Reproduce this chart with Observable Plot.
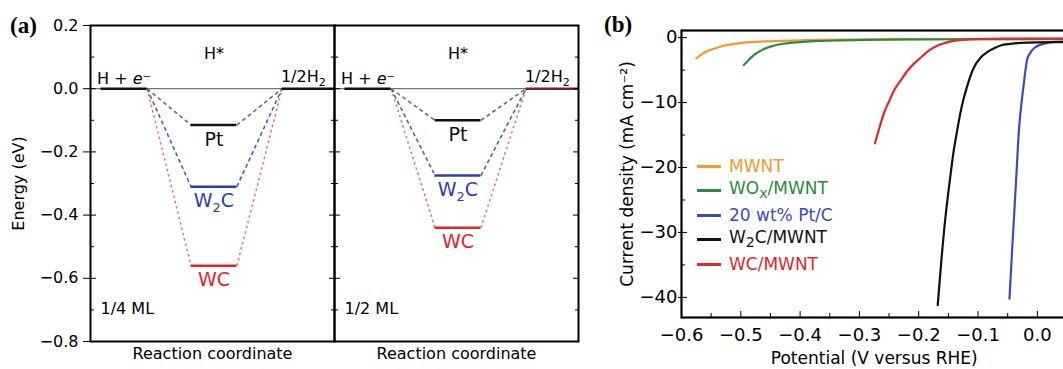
<!DOCTYPE html>
<html><head><meta charset="utf-8">
<script src="https://cdn.jsdelivr.net/npm/d3@7"></script>
<script src="https://cdn.jsdelivr.net/npm/@observablehq/plot@0.6"></script>
<style>
html,body{margin:0;padding:0;background:#fff;overflow:hidden}
#wrap{position:relative;width:1063px;height:369px;overflow:hidden;font-family:"DejaVu Sans",sans-serif;background:#fff}
.abs{position:absolute}
.tag{font-family:"Liberation Serif","DejaVu Serif",serif;font-weight:bold;font-size:23px;line-height:1}
.leg{font-size:17px;line-height:24.5px;height:24.5px;display:flex;align-items:center;white-space:nowrap}
.sw{display:inline-block;width:24px;height:3px;margin-right:8px}
</style></head><body><div id="wrap"></div>
<script>
// ---------- Panel (a): free energy diagram ----------
const coverages = ["1/4 ML", "1/2 ML"];
const catalysts = ["Pt", "W₂C", "WC"];
const energyQuarterML = [-0.115, -0.31, -0.56];
const energyHalfML = [-0.10, -0.275, -0.44];
const stageStart = [0.043, 0.412, 0.785];   // reaction coordinate of each state (start)
const stageEnd = [0.232, 0.600, 1.0];       // reaction coordinate of each state (end)
const stateLabels = ["H + e⁻", "H*", "1/2H₂"];
const energyTicks = [0.2, 0, -0.2, -0.4, -0.6, -0.8];
const energyMinorTicks = [0.1, -0.1, -0.3, -0.5, -0.7];
const catalystColors = ["#111111", "#2f3ea6", "#e1252b"];
const connectorColors = ["#6e6e6e", "#4a5cc4", "#ee6f7c"];
const connectorDash = ["4,3", "4,3", "2.5,3"];
const productColors = ["#111111", "#7b1f24"];

// ---------- Panel (b): polarization curves ----------
const seriesNames = ["MWNT", "WO<sub>x</sub>/MWNT", "20 wt% Pt/C", "W<sub>2</sub>C/MWNT", "WC/MWNT"];
const seriesColors = ["#f29a2e", "#2b8a3e", "#3b4cb8", "#111111", "#e3262b"];
const potMWNT = [-0.575, -0.565, -0.555, -0.54, -0.527, -0.51, -0.487, -0.46, -0.431, -0.40, -0.376, -0.33, -0.25, -0.15, 0.05];
const curMWNT = [-3.2, -2.5, -2.0, -1.55, -1.2, -0.95, -0.7, -0.58, -0.5, -0.4, -0.33, -0.3, -0.28, -0.25, -0.25];
const potWOx = [-0.495, -0.488, -0.482, -0.472, -0.46, -0.445, -0.426, -0.40, -0.376, -0.33, -0.263, -0.15, 0.05];
const curWOx = [-4.2, -3.55, -3.0, -2.3, -1.7, -1.25, -0.9, -0.68, -0.55, -0.42, -0.3, -0.25, -0.2];
const potPtC = [-0.047, -0.043, -0.039, -0.035, -0.031, -0.027, -0.023, -0.020, -0.017, -0.0115, -0.005, 0.0, 0.008, 0.017, 0.03, 0.05];
const curPtC = [-40.2, -33.5, -27.1, -20.6, -14.2, -10.3, -7.2, -5.0, -3.3, -2.3, -1.6, -1.3, -1.0, -0.8, -0.65, -0.6];
const potW2C = [-0.168, -0.162, -0.155, -0.148, -0.141, -0.135, -0.13, -0.124, -0.118, -0.108, -0.096, -0.084, -0.072, -0.062, -0.045, -0.028, 0.0, 0.05];
const curW2C = [-41.2, -34.5, -27.7, -22.3, -17.4, -14.2, -11.7, -9.3, -7.4, -4.8, -3.1, -2.2, -1.6, -1.2, -0.95, -0.8, -0.72, -0.7];
const potWC = [-0.274, -0.266, -0.259, -0.25, -0.242, -0.23, -0.219, -0.208, -0.197, -0.183, -0.168, -0.155, -0.141, -0.125, -0.108, -0.08, -0.04, 0.05];
const curWC = [-16.3, -13.8, -11.7, -9.8, -8.2, -6.55, -5.1, -4.0, -3.1, -2.0, -1.2, -0.8, -0.5, -0.33, -0.22, -0.17, -0.15, -0.15];
const potentialTicks = [-0.6, -0.5, -0.4, -0.3, -0.2, -0.1, 0.0];
const potentialMinorTicks = [-0.55, -0.45, -0.35, -0.25, -0.15, -0.05];
const currentTicks = [0, -10, -20, -30, -40];
const currentMinorTicks = [-5, -15, -25, -35];

const wrap = document.getElementById("wrap");
const blank = () => "";

// ----- build panel (a) -----
const levels = [];
coverages.forEach((cov, ci) => catalysts.forEach((cat, k) =>
  levels.push({cov, cat, k, e: (ci === 0 ? energyQuarterML : energyHalfML)[k]})));
const mid = i => (stageStart[i] + stageEnd[i]) / 2;

const connectorMarks = [2, 1, 0].flatMap(k => {
  const d = levels.filter(l => l.k === k);
  const o = {fx: "cov", stroke: connectorColors[k], strokeWidth: 1.6, strokeDasharray: connectorDash[k]};
  return [
    Plot.link(d, {...o, x1: stageEnd[0], y1: 0, x2: stageStart[1], y2: "e"}),
    Plot.link(d, {...o, x1: stageEnd[1], y1: "e", x2: stageStart[2], y2: 0})
  ];
});

const plotA = Plot.plot({
  width: 600, height: 369,
  marginLeft: 90, marginRight: 22, marginTop: 25, marginBottom: 28,
  style: {fontFamily: "DejaVu Sans", fontSize: "16px", background: "transparent", overflow: "visible", color: "black"},
  fx: {domain: coverages, padding: 0, axis: null},
  x: {domain: [0, 1], axis: null},
  y: {domain: [-0.8, 0.2]},
  color: {type: "identity"},
  marks: [
    Plot.ruleY([0], {stroke: "#555", strokeWidth: 1}),
    ...connectorMarks,
    Plot.ruleY(coverages, {fx: d => d, y: 0, x1: stageStart[0], x2: stageEnd[0], stroke: "#111", strokeWidth: 2.5}),
    Plot.ruleY(coverages, {fx: d => d, y: 0, x1: stageStart[2], x2: stageEnd[2], stroke: (d, i) => productColors[i], strokeWidth: 2.5}),
    Plot.ruleY(levels, {fx: "cov", y: "e", x1: stageStart[1], x2: stageEnd[1], stroke: d => catalystColors[d.k], strokeWidth: 2.5}),
    Plot.text(levels, {fx: "cov", x: mid(1), y: "e", text: "cat", fill: d => catalystColors[d.k], lineAnchor: "top", dy: 7, fontSize: 19}),
    Plot.text(coverages, {fx: d => d, x: mid(0), y: 0, text: () => stateLabels[0], lineAnchor: "bottom", dy: -5}),
    Plot.text(coverages, {fx: d => d, x: mid(2), y: 0, text: () => stateLabels[2], lineAnchor: "bottom", dy: -7, dx: -5}),
    Plot.text(coverages, {fx: d => d, x: mid(1), frameAnchor: "top", dy: 22, text: () => stateLabels[1]}),
    Plot.text(coverages, {fx: d => d, text: d => d, frameAnchor: "bottom-left", dx: 10, dy: -28}),
    Plot.text(coverages, {fx: d => d, text: () => "Reaction coordinate", frameAnchor: "bottom", dy: 17}),
    Plot.text([coverages[0]], {fx: d => d, text: () => "Energy (eV)", frameAnchor: "left", dx: -72, rotate: -90, textAnchor: "middle"}),
    Plot.axisY({ticks: energyTicks, tickFormat: d3.format(".1f"), tickSize: 7, tickPadding: 5, label: null}),
    Plot.axisY({ticks: energyTicks, tickSize: -6, tickFormat: blank, label: null, facetAnchor: null}),
    Plot.axisY({anchor: "right", ticks: energyTicks, tickSize: -6, tickFormat: blank, label: null, facetAnchor: null}),
    Plot.axisY({ticks: energyMinorTicks, tickSize: -4, tickFormat: blank, label: null, facetAnchor: null}),
    Plot.axisY({anchor: "right", ticks: energyMinorTicks, tickSize: -4, tickFormat: blank, label: null, facetAnchor: null}),
    Plot.frame({stroke: "black", strokeWidth: 2})
  ]
});
plotA.querySelectorAll("text").forEach(t => {
  if (t.textContent === "H + e⁻") t.innerHTML = 'H + <tspan font-style="italic">e</tspan>⁻';
  if (t.textContent === "W₂C") t.innerHTML = 'W<tspan dy="5" font-size="13">2</tspan><tspan dy="-5">C</tspan>';
  if (t.textContent === "1/2H₂") t.innerHTML = '1/2H<tspan dy="4" font-size="11">2</tspan>';
});
const boxA = document.createElement("div");
boxA.className = "abs"; boxA.style.left = "0px"; boxA.style.top = "0px"; boxA.style.width = "600px";
boxA.appendChild(plotA);
wrap.appendChild(boxA);

// ----- build panel (b) -----
const seriesData = [[potMWNT, curMWNT], [potWOx, curWOx], [potPtC, curPtC], [potW2C, curW2C], [potWC, curWC]];
const lineMarks = seriesData.map(([v, j], s) =>
  Plot.line(v.map((x, i) => ({v: x, j: j[i]})), {x: "v", y: "j", stroke: seriesColors[s], strokeWidth: 2.2, curve: "monotone-x"}));

const plotB = Plot.plot({
  width: 480, height: 369,
  marginLeft: 81, marginRight: 13.5, marginTop: 30, marginBottom: 52,
  style: {fontFamily: "DejaVu Sans", fontSize: "18px", background: "transparent", overflow: "visible", color: "black"},
  x: {domain: [-0.6, 0.05]},
  y: {domain: [-43.1, 1.1]},
  marks: [
    ...lineMarks,
    Plot.axisX({ticks: potentialTicks, tickFormat: d3.format(".1f"), tickSize: 0, tickPadding: 11, label: null}),
    Plot.axisX({ticks: potentialTicks, tickSize: -6, tickFormat: blank, label: null}),
    Plot.axisX({ticks: potentialMinorTicks, tickSize: -4, tickFormat: blank, label: null}),
    Plot.axisY({ticks: currentTicks, tickFormat: d3.format("d"), tickSize: 3, tickPadding: 1, label: null}),
    Plot.axisY({ticks: currentTicks, tickSize: -6, tickFormat: blank, label: null}),
    Plot.axisY({ticks: currentMinorTicks, tickSize: -4, tickFormat: blank, label: null}),
    Plot.text(["Potential (V versus RHE)"], {frameAnchor: "bottom", dy: 46, fontSize: 17}),
    Plot.text(["Current density (mA cm⁻²)"], {frameAnchor: "left", dx: -54, rotate: -90, textAnchor: "middle", fontSize: 17}),
    Plot.frame({stroke: "black", strokeWidth: 2.2})
  ]
});
const boxB = document.createElement("div");
boxB.className = "abs"; boxB.style.left = "600px"; boxB.style.top = "0px"; boxB.style.width = "480px";
boxB.appendChild(plotB);
wrap.appendChild(boxB);

// legend for (b)
const legend = document.createElement("div");
legend.className = "abs"; legend.style.left = "697px"; legend.style.top = "154px";
seriesNames.forEach((name, s) => {
  const row = document.createElement("div");
  row.className = "leg";
  row.style.color = seriesColors[s];
  row.innerHTML = `<span class="sw" style="background:${seriesColors[s]}"></span><span>${name}</span>`;
  legend.appendChild(row);
});
wrap.appendChild(legend);

// panel tags
[["(a)", 10, 14], ["(b)", 604, 13]].forEach(([t, x, y]) => {
  const d = document.createElement("div");
  d.className = "abs tag"; d.textContent = t;
  d.style.left = x + "px"; d.style.top = y + "px";
  wrap.appendChild(d);
});
</script></body></html>
